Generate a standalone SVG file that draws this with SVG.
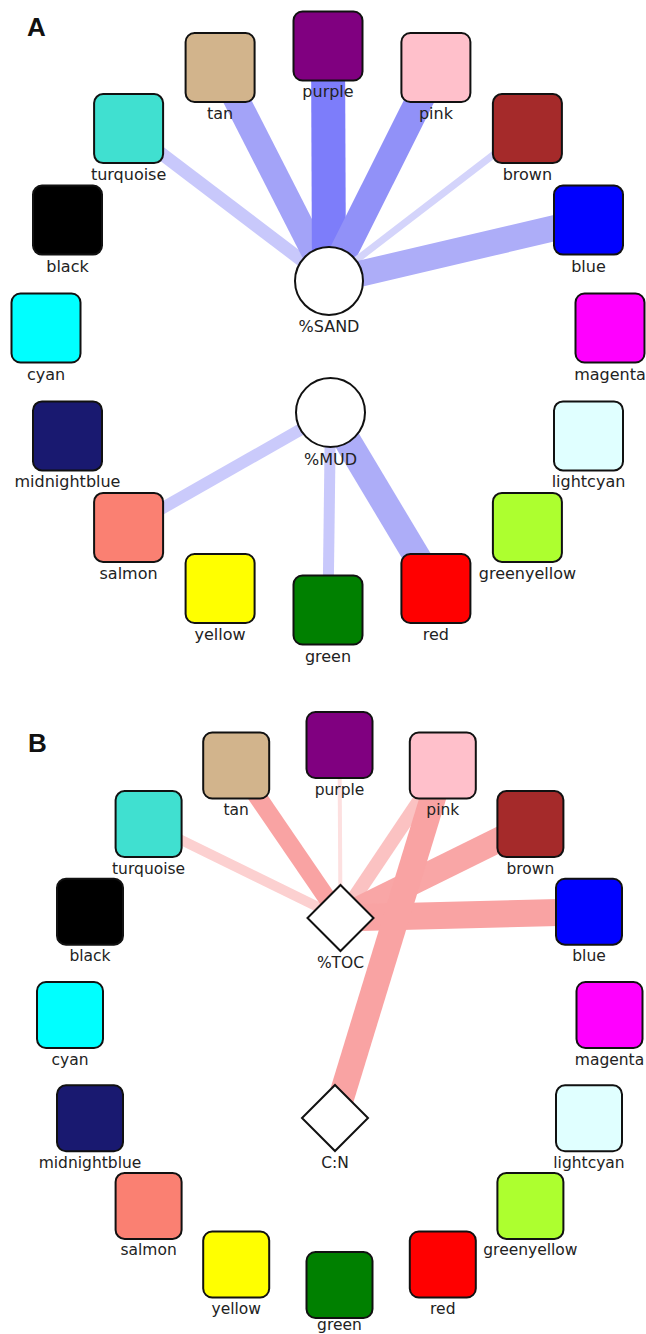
<svg xmlns="http://www.w3.org/2000/svg" width="646" height="1334" viewBox="0 0 646 1334">
<style>
.bg{fill:#ffffff}
.box{stroke:#111;stroke-width:2}
.hub{fill:#ffffff;stroke:#111;stroke-width:2}
.lblA{font-family:"DejaVu Sans",Verdana,sans-serif;font-size:16px;fill:#222;text-anchor:middle}
.lblB{font-family:"DejaVu Sans",Verdana,sans-serif;font-size:15.5px;fill:#222;text-anchor:middle}
.panel{font-family:"Liberation Sans",Arial,sans-serif;font-size:26px;font-weight:bold;fill:#111}
.e{fill:none;stroke-linecap:butt}
</style>
<rect class="bg" x="0" y="0" width="646" height="1334"/>
<text class="panel" x="27" y="36">A</text>
<text class="panel" x="28" y="752">B</text>

<g id="connectors">
  <!-- Panel A -->
  <line class="e" x1="128.6" y1="128.6" x2="329" y2="281" stroke="#c8c8fb" stroke-width="13"/>
  <line class="e" x1="220.1" y1="67.5" x2="329" y2="281" stroke="#a3a3f8" stroke-width="26"/>
  <line class="e" x1="328" y1="46" x2="329" y2="281" stroke="#7d7dfa" stroke-width="34"/>
  <line class="e" x1="435.9" y1="67.5" x2="329" y2="281" stroke="#9191f8" stroke-width="28"/>
  <line class="e" x1="527.4" y1="128.6" x2="329" y2="281" stroke="#d4d4fb" stroke-width="7"/>
  <line class="e" x1="588.5" y1="220.1" x2="329" y2="281" stroke="#adadf8" stroke-width="26"/>
  <line class="e" x1="128.6" y1="527.4" x2="330.5" y2="412.5" stroke="#cacafb" stroke-width="12"/>
  <line class="e" x1="328" y1="610" x2="330.5" y2="412.5" stroke="#c8c8fb" stroke-width="11"/>
  <line class="e" x1="435.9" y1="588.5" x2="330.5" y2="412.5" stroke="#adadf8" stroke-width="27"/>
  <!-- Panel B -->
  <line class="e" x1="148.6" y1="824.1" x2="340.5" y2="918" stroke="#fcd0d0" stroke-width="10"/>
  <line class="e" x1="236.2" y1="765.5" x2="340.5" y2="918" stroke="#f9a3a3" stroke-width="18"/>
  <line class="e" x1="339.5" y1="745" x2="340.5" y2="918" stroke="#fde0e0" stroke-width="4"/>
  <line class="e" x1="442.8" y1="765.5" x2="340.5" y2="918" stroke="#fbc2c2" stroke-width="14"/>
  <line class="e" x1="530.4" y1="824.1" x2="340.5" y2="918" stroke="#f9a6a6" stroke-width="25"/>
  <line class="e" x1="589" y1="911.7" x2="340.5" y2="918" stroke="#f9a3a3" stroke-width="27"/>
  <line class="e" x1="442.8" y1="765.5" x2="335" y2="1118" stroke="#f9a3a3" stroke-width="26"/>
</g>

<!-- Panel A nodes -->
<g id="A-purple"><rect class="box" x="293.5" y="11.5" width="69" height="69" rx="9" fill="#800080"/><text class="lblA" x="328" y="97">purple</text></g>
<g id="A-pink"><rect class="box" x="401.4" y="33" width="69" height="69" rx="9" fill="#ffc0cb"/><text class="lblA" x="435.9" y="119">pink</text></g>
<g id="A-brown"><rect class="box" x="492.9" y="94.1" width="69" height="69" rx="9" fill="#a52a2a"/><text class="lblA" x="527.4" y="180">brown</text></g>
<g id="A-blue"><rect class="box" x="554" y="185.6" width="69" height="69" rx="9" fill="#0000ff"/><text class="lblA" x="588.5" y="271.5">blue</text></g>
<g id="A-magenta"><rect class="box" x="575.5" y="293.5" width="69" height="69" rx="9" fill="#ff00ff"/><text class="lblA" x="610" y="379.5">magenta</text></g>
<g id="A-lightcyan"><rect class="box" x="554" y="401.4" width="69" height="69" rx="9" fill="#e0ffff"/><text class="lblA" x="588.5" y="487">lightcyan</text></g>
<g id="A-greenyellow"><rect class="box" x="492.9" y="492.9" width="69" height="69" rx="9" fill="#adff2f"/><text class="lblA" x="527.4" y="578.5">greenyellow</text></g>
<g id="A-red"><rect class="box" x="401.4" y="554" width="69" height="69" rx="9" fill="#ff0000"/><text class="lblA" x="435.9" y="640">red</text></g>
<g id="A-green"><rect class="box" x="293.5" y="575.5" width="69" height="69" rx="9" fill="#008000"/><text class="lblA" x="328" y="661.5">green</text></g>
<g id="A-yellow"><rect class="box" x="185.6" y="554" width="69" height="69" rx="9" fill="#ffff00"/><text class="lblA" x="220.1" y="640">yellow</text></g>
<g id="A-salmon"><rect class="box" x="94.1" y="492.9" width="69" height="69" rx="9" fill="#fa8072"/><text class="lblA" x="128.6" y="578.5">salmon</text></g>
<g id="A-midnightblue"><rect class="box" x="33" y="401.4" width="69" height="69" rx="9" fill="#191970"/><text class="lblA" x="67.5" y="487">midnightblue</text></g>
<g id="A-cyan"><rect class="box" x="11.5" y="293.5" width="69" height="69" rx="9" fill="#00ffff"/><text class="lblA" x="46" y="379.5">cyan</text></g>
<g id="A-black"><rect class="box" x="33" y="185.6" width="69" height="69" rx="9" fill="#000000"/><text class="lblA" x="67.5" y="271.5">black</text></g>
<g id="A-turquoise"><rect class="box" x="94.1" y="94.1" width="69" height="69" rx="9" fill="#40e0d0"/><text class="lblA" x="128.6" y="180">turquoise</text></g>
<g id="A-tan"><rect class="box" x="185.6" y="33" width="69" height="69" rx="9" fill="#d2b48c"/><text class="lblA" x="220.1" y="119">tan</text></g>
<g id="A-SAND"><circle class="hub" cx="329" cy="281" r="34"/><text class="lblA" x="329" y="332">%SAND</text></g>
<g id="A-MUD"><circle class="hub" cx="330.5" cy="412.5" r="34.5"/><text class="lblA" x="330.5" y="465">%MUD</text></g>

<!-- Panel B nodes -->
<g id="B-purple"><rect class="box" x="306.5" y="712" width="66" height="66" rx="9" fill="#800080"/><text class="lblB" x="339.5" y="795">purple</text></g>
<g id="B-pink"><rect class="box" x="409.8" y="732.5" width="66" height="66" rx="9" fill="#ffc0cb"/><text class="lblB" x="442.8" y="815">pink</text></g>
<g id="B-brown"><rect class="box" x="497.4" y="791.1" width="66" height="66" rx="9" fill="#a52a2a"/><text class="lblB" x="530.4" y="873.5">brown</text></g>
<g id="B-blue"><rect class="box" x="556" y="878.7" width="66" height="66" rx="9" fill="#0000ff"/><text class="lblB" x="589" y="961">blue</text></g>
<g id="B-magenta"><rect class="box" x="576.5" y="982" width="66" height="66" rx="9" fill="#ff00ff"/><text class="lblB" x="609.5" y="1064.5">magenta</text></g>
<g id="B-lightcyan"><rect class="box" x="556" y="1085.3" width="66" height="66" rx="9" fill="#e0ffff"/><text class="lblB" x="589" y="1167.5">lightcyan</text></g>
<g id="B-greenyellow"><rect class="box" x="497.4" y="1172.9" width="66" height="66" rx="9" fill="#adff2f"/><text class="lblB" x="530.4" y="1255">greenyellow</text></g>
<g id="B-red"><rect class="box" x="409.8" y="1231.5" width="66" height="66" rx="9" fill="#ff0000"/><text class="lblB" x="442.8" y="1313.5">red</text></g>
<g id="B-green"><rect class="box" x="306.5" y="1252" width="66" height="66" rx="9" fill="#008000"/><text class="lblB" x="339.5" y="1330">green</text></g>
<g id="B-yellow"><rect class="box" x="203.2" y="1231.5" width="66" height="66" rx="9" fill="#ffff00"/><text class="lblB" x="236.2" y="1313.5">yellow</text></g>
<g id="B-salmon"><rect class="box" x="115.6" y="1172.9" width="66" height="66" rx="9" fill="#fa8072"/><text class="lblB" x="148.6" y="1255">salmon</text></g>
<g id="B-midnightblue"><rect class="box" x="57" y="1085.3" width="66" height="66" rx="9" fill="#191970"/><text class="lblB" x="90" y="1167.5">midnightblue</text></g>
<g id="B-cyan"><rect class="box" x="37" y="982" width="66" height="66" rx="9" fill="#00ffff"/><text class="lblB" x="70" y="1064.5">cyan</text></g>
<g id="B-black"><rect class="box" x="57" y="878.7" width="66" height="66" rx="9" fill="#000000"/><text class="lblB" x="90" y="961">black</text></g>
<g id="B-turquoise"><rect class="box" x="115.6" y="791.1" width="66" height="66" rx="9" fill="#40e0d0"/><text class="lblB" x="148.6" y="873.5">turquoise</text></g>
<g id="B-tan"><rect class="box" x="203.2" y="732.5" width="66" height="66" rx="9" fill="#d2b48c"/><text class="lblB" x="236.2" y="815">tan</text></g>
<g id="B-TOC"><polygon class="hub" points="340.5,885 373.5,918 340.5,951 307.5,918"/><text class="lblB" x="340.5" y="968">%TOC</text></g>
<g id="B-CN"><polygon class="hub" points="335,1085 368,1118 335,1151 302,1118"/><text class="lblB" x="335" y="1167.5">C:N</text></g>
</svg>
